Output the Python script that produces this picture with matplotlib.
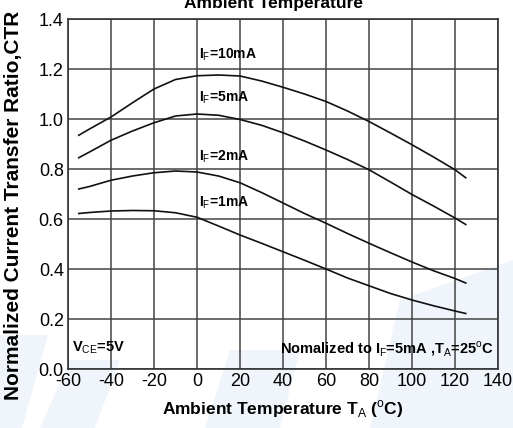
import numpy as np
import matplotlib
matplotlib.use("Agg")
import matplotlib.pyplot as plt
from matplotlib.patches import Polygon

plt.rcParams['font.family'] = ['Liberation Sans', 'DejaVu Sans']
plt.rcParams['mathtext.fontset'] = 'custom'
plt.rcParams['mathtext.rm'] = 'Liberation Sans'
plt.rcParams['mathtext.bf'] = 'Liberation Sans:bold'

# Temperatura ambiente (°C)
temp = [-55, -50, -40, -30, -20, -10, 0, 10, 20, 30, 40, 50, 60, 70, 80, 90, 100, 110, 120, 125]

# CTR normalizado para cada corrente IF
ctr_10ma = [0.935, 0.960, 1.008, 1.065, 1.120, 1.158, 1.173, 1.176, 1.172, 1.152, 1.127, 1.100,
            1.070, 1.032, 0.990, 0.944, 0.897, 0.848, 0.797, 0.765]
ctr_5ma = [0.845, 0.868, 0.915, 0.952, 0.985, 1.012, 1.020, 1.015, 0.998, 0.975, 0.945, 0.912,
           0.876, 0.838, 0.797, 0.748, 0.698, 0.652, 0.604, 0.578]
ctr_2ma = [0.720, 0.730, 0.755, 0.772, 0.785, 0.792, 0.788, 0.772, 0.745, 0.706, 0.664, 0.622,
           0.583, 0.542, 0.503, 0.465, 0.428, 0.393, 0.362, 0.344]
ctr_1ma = [0.622, 0.626, 0.632, 0.634, 0.633, 0.625, 0.607, 0.572, 0.536, 0.503, 0.469, 0.435,
           0.400, 0.364, 0.333, 0.302, 0.276, 0.253, 0.232, 0.222]

curves = [ctr_10ma, ctr_5ma, ctr_2ma, ctr_1ma]
labels = ['10mA', '5mA', '2mA', '1mA']
label_y = [1.255, 1.085, 0.85, 0.665]

xticks = [-60, -40, -20, 0, 20, 40, 60, 80, 100, 120, 140]
yticks = [0.0, 0.2, 0.4, 0.6, 0.8, 1.0, 1.2, 1.4]

fig = plt.figure(figsize=(5.13, 4.28), dpi=100)

# marca d'água azul clara ao fundo
W, H = 513, 428
marks = [
    [(0, 335), (48, 335), (22, 428), (0, 428)],
    [(40, 428), (70, 360), (120, 360), (95, 428)],
    [(230, 350), (300, 350), (280, 428), (205, 428)],
    [(400, 300), (513, 260), (513, 428), (370, 428)],
]
for m in marks:
    fig.patches.append(Polygon([(x / W, 1 - y / H) for x, y in m], closed=True,
                               transform=fig.transFigure, facecolor='#f0f5fb',
                               edgecolor='none', zorder=-5))

ax = fig.add_axes([68 / 513, 59 / 428, 430 / 513, 350 / 428])
ax.set_facecolor('none')

for y in curves:
    ax.plot(temp, y, color='#111111', lw=1.2, zorder=3)

for lab, ly in zip(labels, label_y):
    ax.text(0.8, ly, r'I$_{\rm F}$=' + lab, fontsize=10, fontweight='bold',
            va='center', ha='left', zorder=4)

ax.text(-58, 0.085, r'V$_{\rm CE}$=5V', fontsize=10.5, fontweight='bold', va='center', ha='left')
ax.text(138, 0.08, r'Nomalized to I$_{\rm F}$=5mA ,T$_{\rm A}$=25$^{\rm o}$C',
        fontsize=10.5, fontweight='bold', va='center', ha='right')

ax.set_xlim(-60, 140)
ax.set_ylim(0, 1.4)
ax.set_xticks(xticks)
ax.set_yticks(yticks)
ax.set_xticklabels([str(v) for v in xticks])
ax.set_yticklabels([f'{v:.1f}' for v in yticks])
ax.tick_params(length=0, labelsize=13, pad=3)
ax.grid(True, color='#444444', lw=1.1)
for s in ax.spines.values():
    s.set_color('#333333')
    s.set_linewidth(1.2)

ax.set_xlabel(r'Ambient Temperature T$_{\rm A}$ ($^{\rm o}$C)', fontsize=12.5,
              fontweight='bold', labelpad=6)
fig.text(14 / 513, 0.521, 'Normalized Current Transfer Ratio,CTR', rotation=90,
         fontsize=15, fontweight='bold', ha='center', va='center')
fig.text(273 / 513, 1 - 8 / 428, 'Ambient Temperature', fontsize=12.5,
         fontweight='bold', ha='center', va='baseline')

fig.savefig('out.png', dpi=100)
